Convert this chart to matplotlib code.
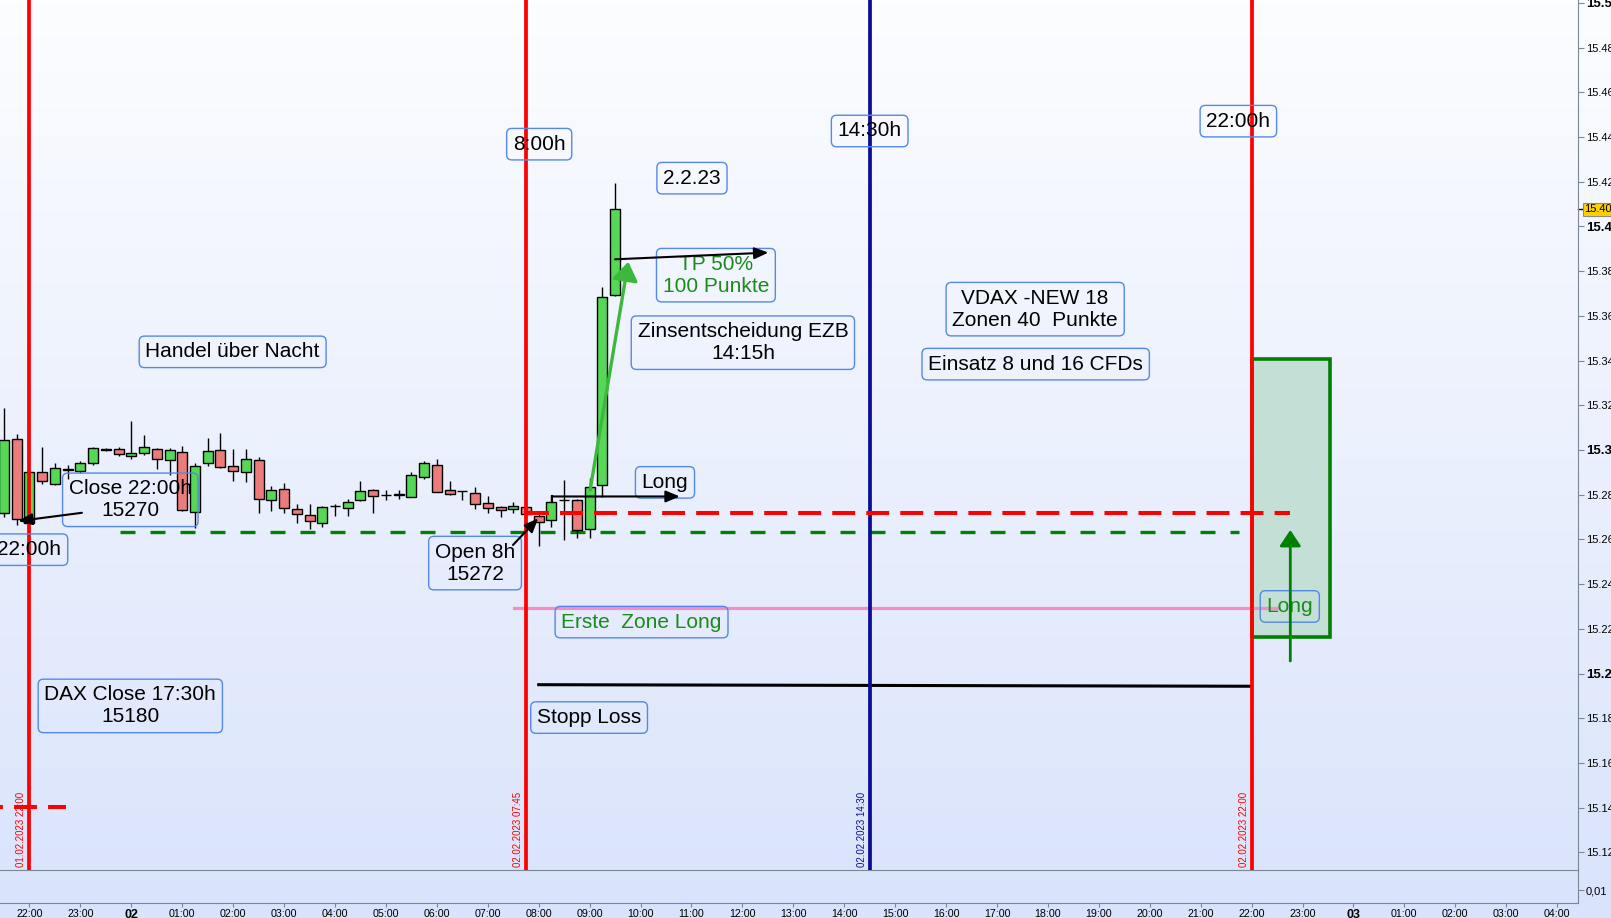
import numpy as np
import pandas as pd
import matplotlib
matplotlib.use("Agg")
import matplotlib.pyplot as plt
from matplotlib.patches import Rectangle
from matplotlib.colors import LinearSegmentedColormap
import matplotlib.transforms as mtransforms

plt.rcParams['font.family'] = ['Liberation Sans', 'DejaVu Sans']
plt.rcParams['lines.scale_dashes'] = False

# 15 min bars, DAX
base = pd.Timestamp("2023-02-01 22:00")
bar_times = pd.date_range("2023-02-01 21:30", periods=49, freq="15min")
opens = [15271.8, 15304.8, 15267.2, 15290.0, 15284.9, 15291.0, 15290.5, 15294.0, 15300.5, 15300.4,
         15297.2, 15298.5, 15300.4, 15295.5, 15299.2, 15272.4, 15294.0, 15299.9, 15292.8, 15290.0,
         15295.4, 15277.5, 15282.4, 15273.5, 15270.8, 15267.5, 15275.0, 15274.2, 15277.5, 15282.0,
         15279.8, 15280.0, 15279.1, 15288.0, 15293.3, 15282.0, 15281.6, 15280.6, 15276.2, 15274.4,
         15273.5, 15274.5, 15270.5, 15268.7, 15277.8, 15277.6, 15264.5, 15284.3, 15369.4]
highs = [15318.8, 15307.0, 15290.3, 15301.2, 15294.0, 15293.3, 15295.0, 15301.5, 15301.0, 15301.5,
         15313.0, 15306.7, 15300.8, 15301.0, 15301.8, 15294.3, 15305.2, 15307.5, 15300.4, 15300.4,
         15296.9, 15283.9, 15285.1, 15275.7, 15275.7, 15275.0, 15275.8, 15278.0, 15286.1, 15282.5,
         15282.0, 15282.3, 15290.0, 15295.2, 15296.0, 15286.1, 15281.8, 15283.4, 15279.6, 15275.1,
         15276.6, 15274.8, 15272.0, 15280.0, 15286.6, 15278.0, 15287.3, 15372.8, 15419.3]
lows = [15270.0, 15266.4, 15267.0, 15284.6, 15284.5, 15286.9, 15289.5, 15293.3, 15299.4, 15297.5,
        15296.0, 15297.8, 15291.5, 15288.8, 15272.5, 15265.0, 15293.0, 15292.0, 15286.3, 15285.8,
        15271.7, 15272.8, 15271.9, 15267.2, 15264.5, 15265.7, 15270.5, 15270.5, 15277.0, 15271.9,
        15277.6, 15278.0, 15278.8, 15287.0, 15281.0, 15280.0, 15277.6, 15273.6, 15271.9, 15270.2,
        15271.7, 15270.0, 15257.0, 15265.4, 15259.7, 15260.6, 15260.5, 15279.1, 15369.0]
closes = [15304.5, 15269.1, 15290.0, 15286.1, 15291.8, 15291.5, 15294.0, 15300.8, 15300.1, 15298.1,
          15298.5, 15301.2, 15295.8, 15300.0, 15273.2, 15293.0, 15299.4, 15292.5, 15290.5, 15295.8,
          15277.9, 15282.0, 15273.9, 15271.2, 15268.1, 15274.4, 15275.0, 15276.6, 15281.5, 15279.3,
          15279.8, 15280.3, 15288.8, 15294.0, 15281.3, 15280.4, 15281.6, 15275.7, 15273.9, 15273.0,
          15274.8, 15271.2, 15267.9, 15276.6, 15277.4, 15264.2, 15283.6, 15368.3, 15407.7]

vline_times = ["2023-02-01 22:00", "2023-02-02 07:45", "2023-02-02 14:30", "2023-02-02 22:00"]
vline_colors = ["#FF0000", "#FF0000", "#0C0C96", "#FF0000"]

open_8h = 15271.6
zone_line = 15263.5
erste_zone = 15229.5
stop_loss = [15195.0, 15194.3]
old_level = 15140.5
zone_low, zone_high = 15216.5, 15340.7
last_price = 15407.7

y_ticks = np.arange(15120, 15501, 20)
hour_ticks = pd.date_range("2023-02-01 22:00", "2023-02-03 04:00", freq="1h")


def hrs(ts):
    return (pd.Timestamp(ts) - base) / pd.Timedelta(hours=1)


def price_label(v):
    # chart software cuts, not rounds
    return f"{int(v // 10) / 100:.2f}"


x = (bar_times - base) / pd.Timedelta(hours=1)

W, H = 1611, 918
fig = plt.figure(figsize=(W / 100, H / 100), dpi=100)

# background gradient
bg = fig.add_axes([0, 0, 1, 1], zorder=-5)
cmap = LinearSegmentedColormap.from_list("bg", ["#FCFDFF", "#D9E3FB"])
bg.imshow(np.linspace(0, 1, 256).reshape(-1, 1), aspect="auto", cmap=cmap, extent=[0, 1, 0, 1])
bg.axis("off")

ax = fig.add_axes([0, (H - 870) / H, 1578 / W, 870 / H])
ax.set_facecolor("none")
ax.set_xlim(-0.579, 30.41)
ax.set_ylim(15112.1, 15501.3)

axis_col = "#7A8794"
for s in ["top", "left"]:
    ax.spines[s].set_visible(False)
ax.spines["right"].set_color(axis_col)
ax.spines["bottom"].set_color(axis_col)

# candles
w = 10 / 50.92
for xi, o, h, l, c in zip(x, opens, highs, lows, closes):
    col = "#55D855" if c >= o else "#EC7B7B"
    ax.vlines(xi, l, h, color="black", lw=1.0, zorder=3)
    ax.add_patch(Rectangle((xi - w / 2, min(o, c)), w, abs(c - o), fc=col, ec="black", lw=1.0, zorder=4))

# zone box
ax.add_patch(Rectangle((24.0, zone_low), 1.53, zone_high - zone_low, fc="#C4DFD6", ec="#008000", lw=2.6, zorder=2))

# horizontal lines
ax.plot([9.75, 24.75], [open_8h, open_8h], color="#FF0000", lw=2.9, dashes=(16.5, 8), zorder=6)
ax.plot([1.78, 23.75], [zone_line, zone_line], color="#008000", lw=2.4, dashes=(10.8, 10.8), zorder=2)
ax.plot([9.51, 24.52], [erste_zone, erste_zone], color="#F58CC8", lw=2.3, zorder=2)
ax.plot([10.0, 24.0], stop_loss, color="black", lw=2.2, zorder=2)
ax.plot([-0.579, 0.72], [old_level, old_level], color="#FF0000", lw=2.9, linestyle=(14.4, (16.5, 8)),
        dash_capstyle="butt", zorder=6)

# vertical lines
for t, col in zip(vline_times, vline_colors):
    h = hrs(t)
    ax.axvline(h, color=col, lw=2.7, zorder=5)
    tr = mtransforms.offset_copy(ax.get_xaxis_transform(), fig=fig, x=-3, y=3, units="dots")
    ax.text(h, 0, pd.Timestamp(t).strftime("%d.%m.%Y %H:%M"), rotation=90, ha="right", va="bottom",
            fontsize=7, color=col, transform=tr, zorder=6)


def box(t, p, s, color="black"):
    ax.text(t, p, s, ha="center", va="center", multialignment="center", fontsize=15, color=color, zorder=8,
            bbox=dict(boxstyle="round,pad=0.3,rounding_size=0.25", fc="none", ec="#5588E8", lw=1.0))


box(10.01, 15436.8, "8:00h")
box(16.5, 15442.7, "14:30h")
box(23.74, 15447.1, "22:00h")
box(13.01, 15421.6, "2.2.23")
box(13.48, 15378.2, "TP 50%\n100 Punkte", "#1A8A1A")
box(14.01, 15348.0, "Zinsentscheidung EZB\n14:15h")
box(19.75, 15363.0, "VDAX -NEW 18\nZonen 40  Punkte")
box(19.76, 15338.4, "Einsatz 8 und 16 CFDs")
box(3.99, 15343.9, "Handel über Nacht")
box(1.98, 15277.7, "Close 22:00h\n15270")
box(0.0, 15255.4, "22:00h")
box(8.75, 15249.4, "Open 8h\n15272")
box(12.48, 15285.5, "Long")
box(12.02, 15223.0, "Erste  Zone Long", "#1A8A1A")
box(1.98, 15185.5, "DAX Close 17:30h\n15180")
box(10.99, 15180.3, "Stopp Loss")
box(24.75, 15230.0, "Long", "#1A8A1A")

# arrows
def arrow(start, tip, color="black", lw=1.5, style="-|>,head_length=0.6,head_width=0.25", ms=14):
    ax.annotate("", xy=tip, xytext=start,
                arrowprops=dict(arrowstyle=style, color=color, lw=lw, mutation_scale=ms,
                                shrinkA=0, shrinkB=0), zorder=9)


arrow((1.03, 15271.9), (-0.22, 15268.2))
arrow((9.495, 15257.5), (9.99, 15269.4))
arrow((10.27, 15279.2), (12.77, 15279.2))
ax.plot([10.27, 10.27], [15279.2, 15276.7], color="black", lw=1.5, zorder=9)
arrow((11.50, 15385.3), (14.51, 15388.3))
arrow((11.01, 15282.1), (11.76, 15384.2), color="#3CB83C", lw=2.4,
      style="-|>,head_length=0.8,head_width=0.55", ms=14)
arrow((24.76, 15205.6), (24.76, 15264.2), color="#008000", lw=2.0,
      style="-|>,head_length=0.75,head_width=0.5", ms=13)

# right price axis
ax.yaxis.tick_right()
ax.set_yticks(y_ticks)
ax.set_yticklabels([price_label(v) for v in y_ticks])
ax.tick_params(axis="y", length=4, color=axis_col, labelsize=8, pad=1.5)
for v, lab in zip(y_ticks, ax.get_yticklabels()):
    if v % 100 == 0:
        lab.set_fontweight("bold")
        lab.set_fontsize(9.5)
ax.set_xticks([])

ax.annotate(price_label(last_price), xy=(1, last_price), xycoords=("axes fraction", "data"),
            xytext=(6, 0), textcoords="offset pixels", ha="left", va="center", fontsize=8,
            bbox=dict(boxstyle="square,pad=0.12", fc="#FFD000", ec="#8A8A8A", lw=0.8),
            annotation_clip=False)
ax.plot([1.0, 1.0035], [last_price, last_price], color="black", lw=1, transform=ax.get_yaxis_transform(),
        clip_on=False)

# lower indicator panel
ax2 = fig.add_axes([0, (H - 903) / H, 1578 / W, 33 / H])
ax2.set_facecolor("none")
ax2.set_xlim(ax.get_xlim())
ax2.set_ylim(0, 1)
for s in ["top", "left"]:
    ax2.spines[s].set_visible(False)
ax2.spines["right"].set_color(axis_col)
ax2.spines["bottom"].set_color(axis_col)
ax2.yaxis.tick_right()
ax2.set_yticks([0.39])
ax2.set_yticklabels(["0,01"])
ax2.tick_params(axis="y", length=4, color=axis_col, labelsize=8, pad=1.5)

hx = [(t - base) / pd.Timedelta(hours=1) for t in hour_ticks]
hl = [t.strftime("%d") if t.hour == 0 else t.strftime("%H:%M") for t in hour_ticks]
ax2.set_xticks(hx)
ax2.set_xticklabels(hl)
ax2.tick_params(axis="x", length=3, color=axis_col, labelsize=7.7, pad=1)
for t, lab in zip(hour_ticks, ax2.get_xticklabels()):
    if t.hour == 0:
        lab.set_fontweight("bold")
        lab.set_fontsize(9)

fig.savefig("out.png", dpi=100)
